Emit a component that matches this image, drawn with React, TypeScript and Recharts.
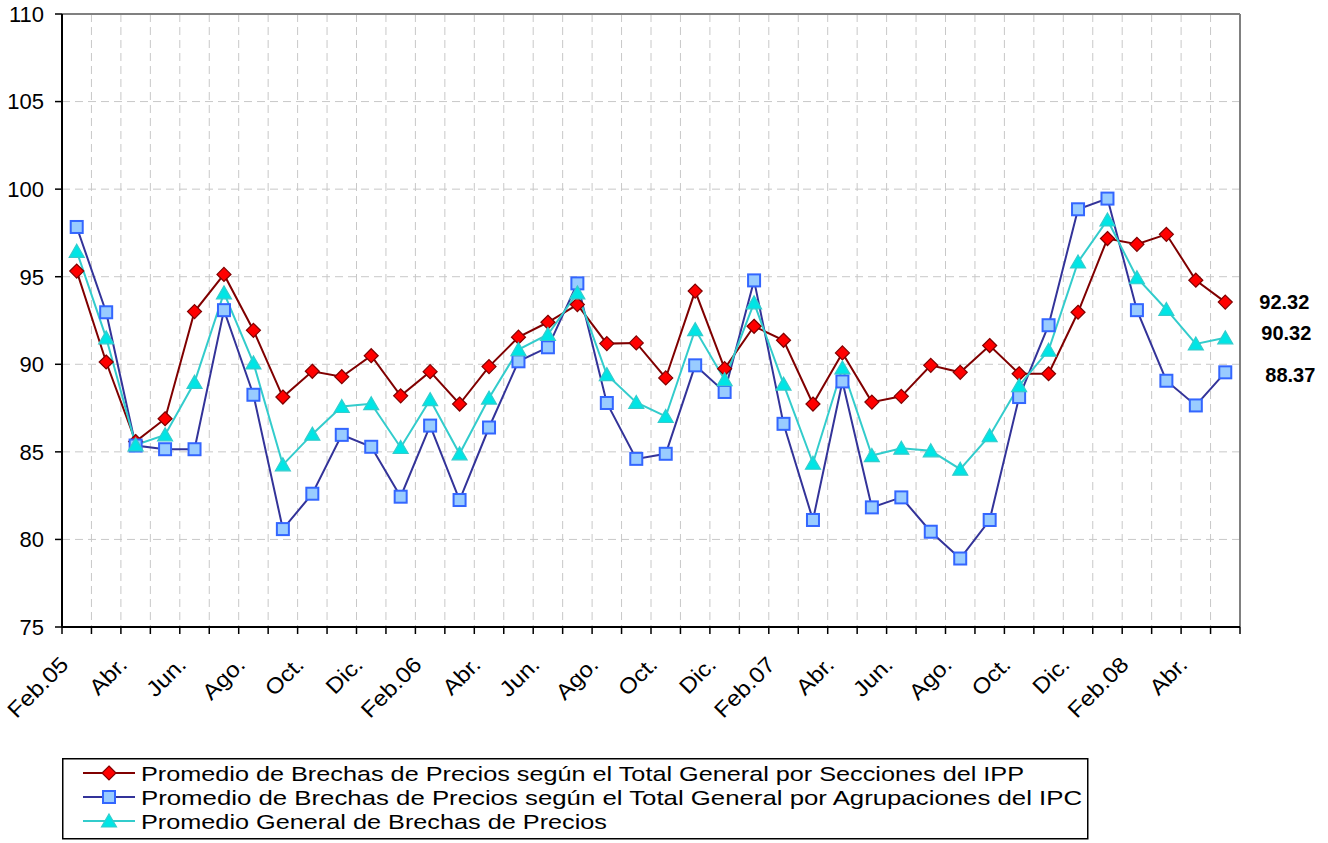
import { LineChart, Line, XAxis, YAxis, CartesianGrid, ReferenceLine, Legend, LabelList } from 'recharts'

const months = [
  'Feb.05', 'Mar.', 'Abr.', 'May.', 'Jun.', 'Jul.', 'Ago.', 'Sep.', 'Oct.', 'Nov.', 'Dic.', 'Ene.',
  'Feb.06', 'Mar.', 'Abr.', 'May.', 'Jun.', 'Jul.', 'Ago.', 'Sep.', 'Oct.', 'Nov.', 'Dic.', 'Ene.',
  'Feb.07', 'Mar.', 'Abr.', 'May.', 'Jun.', 'Jul.', 'Ago.', 'Sep.', 'Oct.', 'Nov.', 'Dic.', 'Ene.',
  'Feb.08', 'Mar.', 'Abr.', 'May.',
]

// Secciones del IPP
const ipp = [
  95.32, 90.13, 85.59, 86.89, 93.01, 95.13, 91.94, 88.13, 89.6, 89.29,
  90.49, 88.2, 89.58, 87.73, 89.87, 91.55, 92.4, 93.41, 91.18, 91.22,
  89.22, 94.18, 89.75, 92.17, 91.37, 87.73, 90.65, 87.84, 88.17, 89.94,
  89.54, 91.07, 89.46, 89.46, 92.97, 97.18, 96.85, 97.42, 94.8, 93.55,
]

// Agrupaciones del IPC
const ipc = [
  97.84, 92.97, 85.36, 85.15, 85.15, 93.09, 88.26, 80.59, 82.61, 85.97,
  85.29, 82.44, 86.5, 82.25, 86.39, 90.17, 90.97, 94.62, 87.79, 84.6,
  84.89, 89.94, 88.42, 94.79, 86.6, 81.11, 89.02, 81.83, 82.4, 80.44,
  78.91, 81.11, 88.13, 92.23, 98.85, 99.46, 93.09, 89.06, 87.65, 89.54,
]

// Promedio general
const general = [
  96.45, 91.51, 85.4, 85.97, 88.97, 94.08, 90.08, 84.26, 86.01, 87.59,
  87.75, 85.25, 87.98, 84.89, 88.07, 90.84, 91.7, 94.08, 89.41, 87.82,
  87.02, 91.98, 89.12, 93.51, 88.87, 84.35, 89.79, 84.79, 85.21, 85.06,
  84.01, 85.92, 88.78, 90.8, 95.84, 98.24, 94.94, 93.13, 91.16, 91.51,
]

const yTicks = [75, 80, 85, 90, 95, 100, 105, 110]

const seriesNames = [
  'Promedio de Brechas de Precios según el Total General por Secciones del IPP',
  'Promedio de Brechas de Precios según el Total General por Agrupaciones del IPC',
  'Promedio General de Brechas de Precios',
]

const endLabels = ['92.32', '88.37', '90.32']

const data = months.map((m, i) => ({ idx: i, month: m, ipp: ipp[i], ipc: ipc[i], general: general[i] }))
const bounds = months.map((_, i) => i - 0.5).concat(months.length - 0.5)

const W = 1328
const H = 843
const MARGIN = { top: 14, right: 88, left: 0, bottom: 156 }
const Y_W = 62
const HALF_BAND = (W - Y_W - MARGIN.right) / months.length / 2
const FONT = '"Liberation Sans", Arial, sans-serif'

function MonthTick({ x, y, payload }: any) {
  const i = Math.round(payload.value + 0.5)
  if (i >= months.length || i % 2 !== 0) return <g />
  return (
    <text
      transform={`translate(${x + HALF_BAND - 7},${y + 30}) rotate(-45) scale(1.1,1)`}
      textAnchor="end"
      fontSize={22}
      fontFamily={FONT}
      fill="#000"
    >
      {months[i]}
    </text>
  )
}

function Diamond({ cx, cy }: any) {
  return (
    <path
      d={`M${cx},${cy - 7}L${cx + 7},${cy}L${cx},${cy + 7}L${cx - 7},${cy}Z`}
      fill="#ff0000"
      stroke="#800000"
      strokeWidth={1.2}
    />
  )
}

function Square({ cx, cy }: any) {
  return <rect x={cx - 6} y={cy - 6} width={12} height={12} fill="#99ccff" stroke="#3366ff" strokeWidth={2} />
}

function Triangle({ cx, cy }: any) {
  return (
    <path
      d={`M${cx},${cy - 7}L${cx + 7.5},${cy + 6}L${cx - 7.5},${cy + 6}Z`}
      fill="#00e5e5"
      stroke="#33cccc"
      strokeWidth={1.2}
    />
  )
}

const markers = [Diamond, Square, Triangle]
const lineColors = ['#800000', '#333399', '#33cccc']
const textLengths = [883, 941, 466]

function LegendBox() {
  return (
    <svg width={1028} height={82} style={{ display: 'block' }}>
      <rect x={0.75} y={0.75} width={1025} height={80} fill="#fff" stroke="#000" strokeWidth={1.5} />
      {seriesNames.map((name, i) => {
        const cy = 15 + i * 24
        const Marker = markers[i]
        return (
          <g key={name}>
            <line x1={21} x2={73} y1={cy} y2={cy} stroke={lineColors[i]} strokeWidth={2} />
            <Marker cx={47} cy={cy} />
            <text
              x={79}
              y={cy + 7.5}
              fontSize={21}
              fontFamily={FONT}
              fill="#000"
              textLength={textLengths[i]}
              lengthAdjust="spacingAndGlyphs"
            >
              {name}
            </text>
          </g>
        )
      })}
    </svg>
  )
}

const endLabel = (text: string, dx: number, dy: number) => (p: any) =>
  p.index === months.length - 1 ? (
    <text
      key="end"
      x={p.x + dx}
      y={p.y + dy}
      dy="0.35em"
      fontSize={20}
      fontWeight="bold"
      fontFamily={FONT}
      fill="#000"
    >
      {text}
    </text>
  ) : null

export default function App() {
  return (
    <div style={{ position: 'absolute', left: 0, top: 0, fontFamily: FONT }}>
      <LineChart width={W} height={H} data={data} margin={MARGIN}>
        <CartesianGrid stroke="#c8c8c8" strokeDasharray="8 5" />
        <XAxis
          dataKey="idx"
          type="number"
          domain={[-0.5, months.length - 0.5]}
          ticks={bounds}
          interval={0}
          height={60}
          tick={<MonthTick />}
          tickSize={7}
          axisLine={{ stroke: '#000', strokeWidth: 2 }}
          tickLine={{ stroke: '#000', strokeWidth: 1.5 }}
        />
        <YAxis
          domain={[75, 110]}
          ticks={yTicks}
          width={Y_W}
          tickSize={7}
          tickMargin={11}
          tick={{ fontSize: 22, fill: '#000', fontFamily: FONT }}
          axisLine={{ stroke: '#000', strokeWidth: 2 }}
          tickLine={{ stroke: '#000', strokeWidth: 1.5 }}
        />
        <ReferenceLine y={110} stroke="#808080" strokeWidth={2} />
        <ReferenceLine x={months.length - 0.5} stroke="#808080" strokeWidth={2} />
        <Line
          dataKey="ipp"
          name={seriesNames[0]}
          stroke={lineColors[0]}
          strokeWidth={2}
          dot={(p: any) => <Diamond key={`ipp-${p.index}`} cx={p.cx} cy={p.cy} />}
          activeDot={false}
          isAnimationActive={false}
        >
          <LabelList dataKey="ipp" content={endLabel(endLabels[0], 34, 0)} />
        </Line>
        <Line
          dataKey="ipc"
          name={seriesNames[1]}
          stroke={lineColors[1]}
          strokeWidth={2}
          dot={(p: any) => <Square key={`ipc-${p.index}`} cx={p.cx} cy={p.cy} />}
          activeDot={false}
          isAnimationActive={false}
        >
          <LabelList dataKey="ipc" content={endLabel(endLabels[1], 40, 3)} />
        </Line>
        <Line
          dataKey="general"
          name={seriesNames[2]}
          stroke={lineColors[2]}
          strokeWidth={2}
          dot={(p: any) => <Triangle key={`gen-${p.index}`} cx={p.cx} cy={p.cy} />}
          activeDot={false}
          isAnimationActive={false}
        >
          <LabelList dataKey="general" content={endLabel(endLabels[2], 36, -5)} />
        </Line>
        <Legend
          layout="vertical"
          align="center"
          verticalAlign="middle"
          content={() => <LegendBox />}
          wrapperStyle={{ left: 62, top: 758, width: 1028, height: 82 }}
        />
      </LineChart>
    </div>
  )
}
